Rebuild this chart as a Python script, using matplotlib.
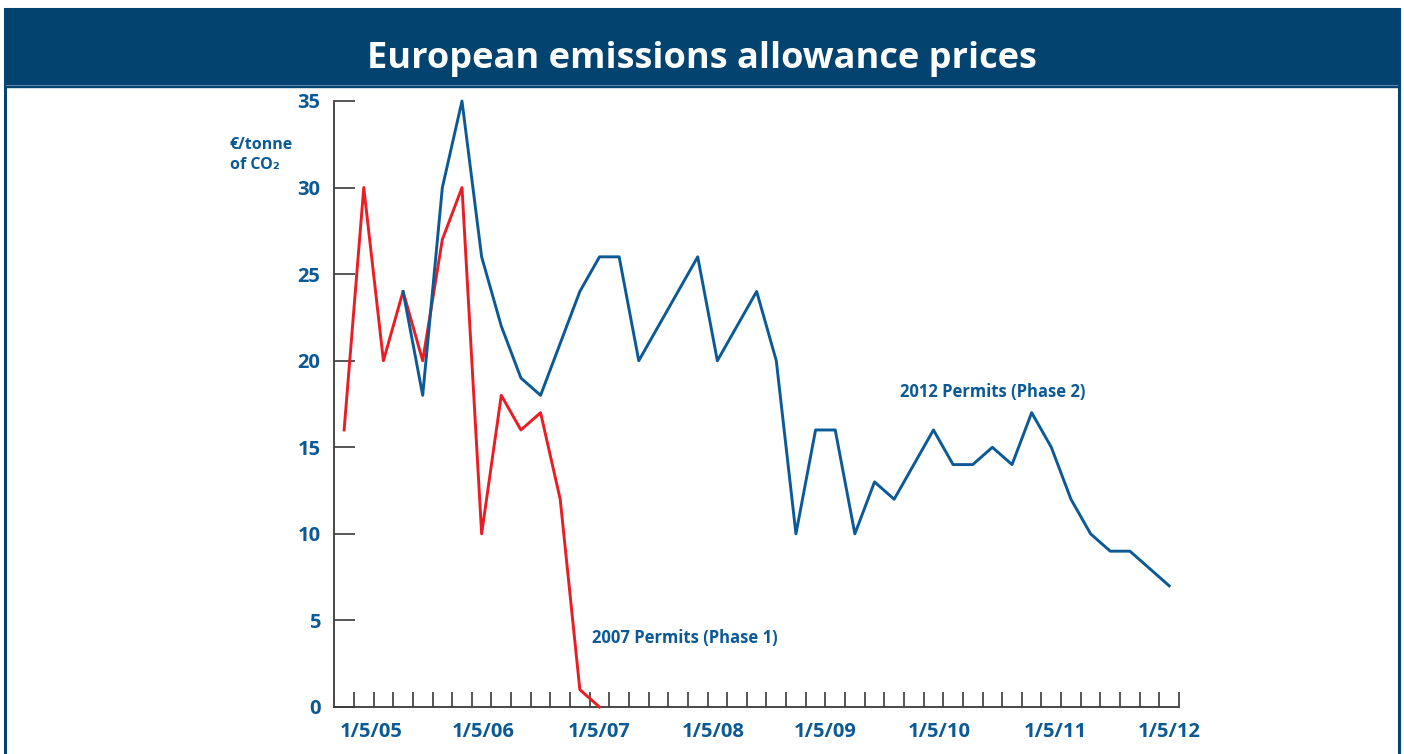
import numpy as np
import matplotlib.pyplot as plt
from matplotlib.patches import Rectangle
from matplotlib.lines import Line2D

# Bimonthly prices, point index 0 = first observation (early 2005)
phase1_idx = list(range(0, 14))
phase1_price = [16, 30, 20, 24, 20, 27, 30, 10, 18, 16, 17, 12, 1, 0]

phase2_idx = list(range(3, 43))
phase2_price = [24, 18, 30, 35, 26, 22, 19, 18, 21, 24,
                26, 26, 20, 22, 24, 26, 20, 22, 24, 20,
                10, 16, 16, 10, 13, 12, 14, 16, 14, 14,
                15, 14, 17, 15, 12, 10, 9, 9, 8, 7]

date_labels = ['1/5/05', '1/5/06', '1/5/07', '1/5/08', '1/5/09', '1/5/10', '1/5/11', '1/5/12']
date_pos = [1.4, 7.1, 13.0, 18.8, 24.5, 30.3, 36.2, 42.0]
y_ticks = [0, 5, 10, 15, 20, 25, 30, 35]

BANNER = '#03436f'
BLUE = '#0b5a96'
RED = '#ea1d25'
FONT = ['Open Sans', 'DejaVu Sans']

W, H = 1404, 754
fig = plt.figure(figsize=(W / 100, H / 100), dpi=100)
fig.patch.set_facecolor('white')

# frame and title banner (pixel coords -> figure fraction)
def fx(px): return px / W
def fy(py): return 1 - py / H

fig.patches.append(Rectangle((fx(4.5), -0.05), fx(1398.5) - fx(4.5), fy(9) + 0.05,
                             transform=fig.transFigure, facecolor='none',
                             edgecolor=BANNER, lw=2.2, zorder=0))
fig.patches.append(Rectangle((fx(4.5), fy(87)), fx(1398.5) - fx(4.5), fy(9) - fy(87),
                             transform=fig.transFigure, facecolor=BANNER,
                             edgecolor=BANNER, lw=1, zorder=1))
fig.lines.append(Line2D([fx(6), fx(1397)], [fy(84.5), fy(84.5)], transform=fig.transFigure,
                        color='#5d86ab', lw=0.8, zorder=2))
fig.text(0.5, fy(59), 'European emissions allowance prices', ha='center', va='center',
         color='white', fontsize=26, fontweight='bold', family=FONT)

ax = fig.add_axes([fx(334.3), fy(707), fx(1179) - fx(334.3), fy(101) - fy(707)])
ax.plot(phase1_idx, phase1_price, color=RED, lw=2.1, clip_on=False, zorder=3)
ax.plot(phase2_idx, phase2_price, color=BLUE, lw=2.1, clip_on=False, zorder=4)

ax.set_xlim(-0.5, 42.5)
ax.set_ylim(0, 35)
for s in ['top', 'right']:
    ax.spines[s].set_visible(False)
for s in ['left', 'bottom']:
    ax.spines[s].set_color('#3a3a3a')
    ax.spines[s].set_linewidth(1.3)

ax.xaxis.remove_overlapping_locs = False
ax.set_yticks(y_ticks)
ax.set_yticklabels([str(v) for v in y_ticks])
ax.tick_params(axis='y', direction='in', length=15, width=1.2, color='#3a3a3a',
               pad=10, labelsize=14.5, labelcolor=BLUE)
ax.set_xticks(np.arange(0.5, 43, 1.0))
ax.set_xticklabels([])
ax.tick_params(axis='x', which='major', direction='in', length=11, width=1.2, color='#3a3a3a')
ax.set_xticks(date_pos, minor=True)
ax.set_xticklabels(date_labels, minor=True)
ax.tick_params(axis='x', which='minor', length=0, pad=11, labelsize=14.5, labelcolor=BLUE)
for lab in ax.get_yticklabels() + ax.get_xticklabels(minor=True):
    lab.set_fontweight('bold')
    lab.set_family(FONT)

fig.text(fx(230), fy(155), '€/tonne\nof CO₂', ha='left', va='center', color=BLUE,
         fontsize=11.5, fontweight='bold', family=FONT, linespacing=1.3)

fig.text(fx(592), fy(638), '2007 Permits (Phase 1)', ha='left', va='center', color=BLUE,
         fontsize=12, fontweight='bold', family=FONT)
fig.text(fx(900), fy(392), '2012 Permits (Phase 2)', ha='left', va='center', color=BLUE,
         fontsize=12, fontweight='bold', family=FONT)

fig.savefig('out.png', dpi=100, facecolor='white')
